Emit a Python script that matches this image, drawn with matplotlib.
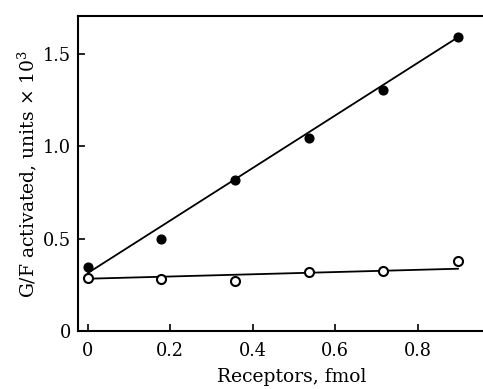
import matplotlib
matplotlib.use("Agg")
import matplotlib.pyplot as plt
import numpy as np

# Data
receptors_fmol = [0.0, 0.178, 0.357, 0.537, 0.716, 0.898]
filled_vals = [0.346, 0.50, 0.82, 1.047, 1.303, 1.592]
open_vals = [0.289, 0.280, 0.273, 0.317, 0.323, 0.377]

filled_fit_x = [0.0, 0.898]
filled_fit_y = [0.314, 1.590]
open_fit_x = [0.0, 0.898]
open_fit_y = [0.283, 0.337]

xticks = [0, 0.2, 0.4, 0.6, 0.8]
xticklabels = ["0", "0.2", "0.4", "0.6", "0.8"]
yticks = [0, 0.5, 1.0, 1.5]
yticklabels = ["0", "0.5", "1.0", "1.5"]

W, H = 483, 389
fig = plt.figure(figsize=(W / 100, H / 100), dpi=100)
plt.rcParams['font.family'] = ['DejaVu Serif']
plt.rcParams['mathtext.fontset'] = 'dejavuserif'

left, right, top, bottom = 78, 500, 16, 331
ax = fig.add_axes([left / W, 1 - bottom / H, (right - left) / W, (bottom - top) / H])

ax.plot(filled_fit_x, filled_fit_y, color='black', lw=1.3, zorder=2)
ax.plot(open_fit_x, open_fit_y, color='black', lw=1.3, zorder=2)
ax.plot(receptors_fmol, filled_vals, 'o', color='black', ms=6.3, zorder=3)
ax.plot(receptors_fmol, open_vals, 'o', mfc='white', mec='black', mew=1.5, ms=6.5, zorder=3)

ax.set_xlim(-0.024, 1.0)
ax.set_ylim(0, 1.705)
ax.set_xticks(xticks)
ax.set_xticklabels(xticklabels)
ax.set_yticks(yticks)
ax.set_yticklabels(yticklabels)
ax.tick_params(direction='in', length=5, width=1.2, labelsize=12.8)
ax.tick_params(axis='x', pad=8)
ax.tick_params(axis='y', pad=5)
for s in ax.spines.values():
    s.set_linewidth(1.5)

fig.text(292 / W, 1 - 382 / H, "Receptors, fmol", fontsize=13.5,
         ha='center', va='baseline')
ax.set_ylabel(r"G/F activated, units $\times$ 10$^3$", fontsize=13.5, labelpad=3)

fig.savefig("out.png", dpi=100)
